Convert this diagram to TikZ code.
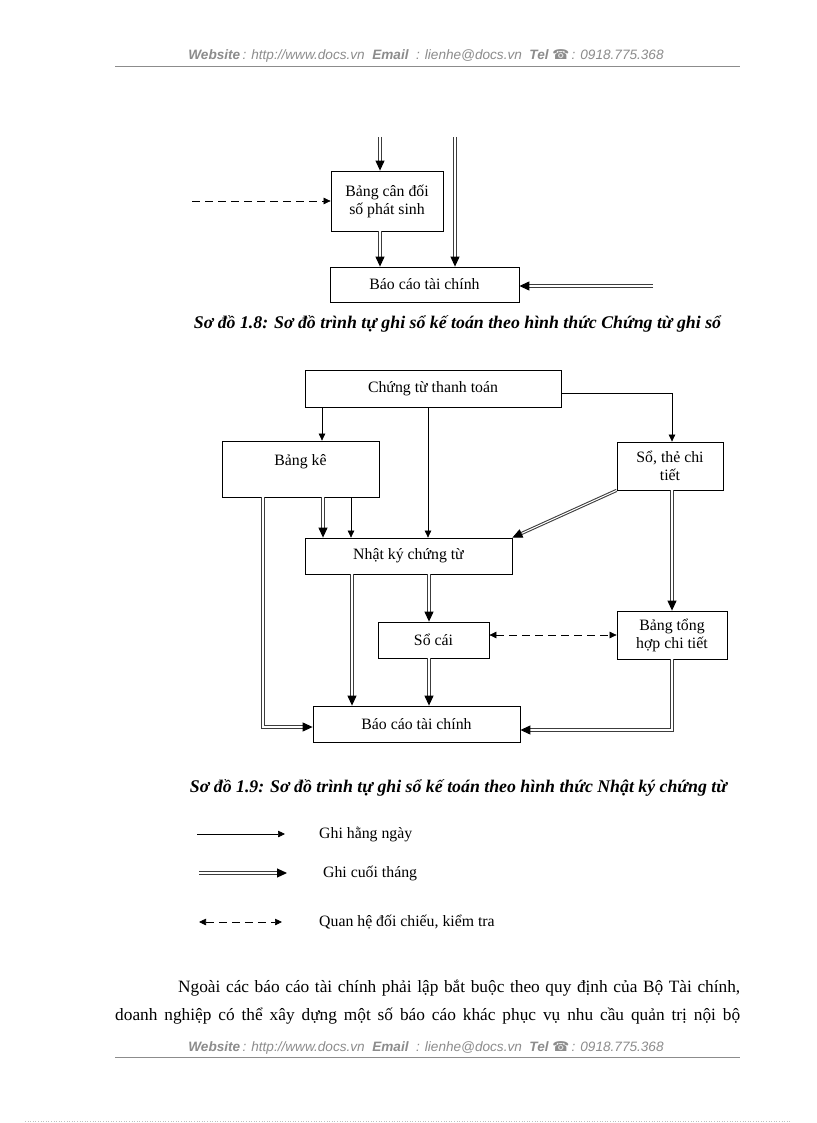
\documentclass[tikz,border=0pt]{standalone}
\usepackage{fontspec}
\setmainfont{Liberation Serif}
\newfontfamily\hdrfont{Liberation Sans}
\newfontfamily\symfont{DejaVu Sans}
\usetikzlibrary{arrows.meta}
\newcommand\boxfont{\fontsize{15.8}{18}\selectfont}
\newcommand\capfont{\fontsize{17.8}{20}\selectfont\bfseries\itshape}
\newcommand\bodyfont{\fontsize{17.3}{20}\selectfont}
\newcommand\hdrline{{\bfseries Website}\,: http://www.docs.vn\ \ {\bfseries Email}\ \ : lienhe@docs.vn\ \ {\bfseries Tel} {\symfont\upshape ☎}\,: 0918.775.368}
\definecolor{hdrgray}{RGB}{140,140,140}
\definecolor{dblgray}{RGB}{60,60,60}
\tikzset{
	box/.style={draw, line width=0.8pt, inner sep=2pt, align=center, font=\boxfont},
	sgl/.style={line width=0.7pt, -{Triangle[length=7pt,width=6.5pt]}},
	dbl/.style={draw=dblgray, line width=1.05pt, double, double distance=1.05pt, -{Triangle[length=10pt,width=9pt,color=black]}},
	dsh/.style={line width=0.7pt, dash pattern=on 8pt off 5pt, -{Triangle[length=7pt,width=6.5pt]}},
	txt/.style={inner sep=0pt, anchor=west, font=\boxfont},
}
\begin{document}
\begin{tikzpicture}[x=1pt,y=-1pt]
	\useasboundingbox[fill=white] (0,0) rectangle (816,1123);
	% header and footer
	\node[font=\hdrfont\itshape\fontsize{13.6}{15}\selectfont, text=hdrgray, inner sep=0pt] (hdr) at (426,56) {\hdrline};
	\draw[hdrgray, line width=0.8pt] (115,66) -- (740,66);
	\node[font=\hdrfont\itshape\fontsize{13.6}{15}\selectfont, text=hdrgray, inner sep=0pt] (ftr) at (426,1048) {\hdrline};
	\draw[hdrgray, line width=0.8pt] (115,1057) -- (740,1057);
	\draw[black!25, dotted, line width=0.6pt] (25,1121) -- (791,1121);

	% so do 1.8 (phan cuoi)
	\coordinate (top1) at (380,137);
	\coordinate (top2) at (455,137);
	\coordinate (left1) at (192,201);
	\coordinate (right1) at (653,286);
	\node[box, minimum width=112pt, minimum height=60pt] (bcd) at (387,201) {Bảng cân đối\\số phát sinh};
	\node[box, minimum width=189pt, minimum height=35pt] (bc1) at (424.5,284.5) {Báo cáo tài chính};
	\draw[dbl] (top1) -- ([xshift=-7pt]bcd.north);
	\draw[dbl] ([xshift=-7pt]bcd.south) -- ([xshift=-44.5pt]bc1.north);
	\draw[dbl] (top2) -- ([xshift=30.5pt]bc1.north);
	\draw[dsh] (left1) -- (bcd.west);
	\draw[dbl] (right1) -- ([yshift=-1.5pt]bc1.east);
	\node[font=\capfont, inner sep=0pt] (cap18) at (457.5,324) {Sơ đồ 1.8: Sơ đồ trình tự ghi sổ kế toán theo hình thức Chứng từ ghi sổ};

	% so do 1.9
	\node[box, minimum width=256pt, minimum height=37pt] (cttt) at (433,388.5) {Chứng từ thanh toán};
	\node[box, minimum width=157pt, minimum height=56pt] (bk) at (300.5,469) {Bảng kê\\~};
	\node[box, minimum width=106pt, minimum height=48pt] (stct) at (670,466) {Sổ, thẻ chi\\tiết};
	\node[box, minimum width=207pt, minimum height=36pt] (nkct) at (408.5,556) {Nhật ký chứng từ};
	\node[box, minimum width=111pt, minimum height=36pt] (socai) at (433.5,640) {Sổ cái};
	\node[box, minimum width=110pt, minimum height=48pt] (bth) at (672,635) {Bảng tổng\\hợp chi tiết};
	\node[box, minimum width=207pt, minimum height=36pt] (bctc) at (416.5,724) {Báo cáo tài chính};

	\draw[sgl] ([xshift=-111pt]cttt.south) -- ([xshift=21.5pt]bk.north);
	\draw[sgl] ([xshift=-5pt]cttt.south) -- ([xshift=19.5pt]nkct.north);
	\draw[sgl] ([yshift=-4.5pt]cttt.east) -| ([xshift=2pt]stct.north);
	\draw[dbl] ([xshift=-37.5pt]bk.south) |- ([yshift=-3pt]bctc.west);
	\draw[dbl] ([xshift=22.5pt]bk.south) -- ([xshift=-85.5pt]nkct.north);
	\draw[sgl] ([xshift=50.5pt]bk.south) -- ([xshift=-57.5pt]nkct.north);
	\draw[dbl] (stct.south west) -- (nkct.north east);
	\draw[dbl] ([xshift=2pt]stct.south) -- (bth.north);
	\draw[dbl] ([xshift=-56.5pt]nkct.south) -- ([xshift=-64.5pt]bctc.north);
	\draw[dbl] ([xshift=20.5pt]nkct.south) -- ([xshift=-4.5pt]socai.north);
	\draw[dbl] ([xshift=-4.5pt]socai.south) -- ([xshift=12.5pt]bctc.north);
	\draw[dsh, {Triangle[length=7pt,width=6.5pt]}-{Triangle[length=7pt,width=6.5pt]}] ([yshift=5pt]socai.east) -- (bth.west);
	\draw[dbl] (bth.south) |- ([yshift=-6pt]bctc.east);
	\node[font=\capfont, inner sep=0pt] (cap19) at (458.5,788) {Sơ đồ 1.9: Sơ đồ trình tự ghi sổ kế toán theo hình thức Nhật ký chứng từ};

	% chu thich
	\node[txt] (lg1) at (319,834) {Ghi hằng ngày};
	\node[txt] (lg2) at (319,873) {\ Ghi cuối tháng};
	\node[txt] (lg3) at (319,922) {Quan hệ đối chiếu, kiểm tra};
	\draw[sgl] ([xshift=-122pt]lg1.west) -- ([xshift=-34pt]lg1.west);
	\draw[dbl] ([xshift=-120pt]lg2.west) -- ([xshift=-32pt]lg2.west);
	\draw[dsh, {Triangle[length=7pt,width=6.5pt]}-{Triangle[length=7pt,width=6.5pt]}] ([xshift=-120pt]lg3.west) -- ([xshift=-37pt]lg3.west);

	% doan van
	\node[inner sep=0pt, anchor=west, font=\bodyfont] (par1) at (178,988) {\makebox[562pt][s]{Ngoài các báo cáo tài chính phải lập bắt buộc theo quy định của Bộ Tài chính,}};
	\node[inner sep=0pt, anchor=west, font=\bodyfont] (par2) at (115,1016) {\makebox[625pt][s]{doanh nghiệp có thể xây dựng một số báo cáo khác phục vụ nhu cầu quản trị nội bộ}};
\end{tikzpicture}
\end{document}
